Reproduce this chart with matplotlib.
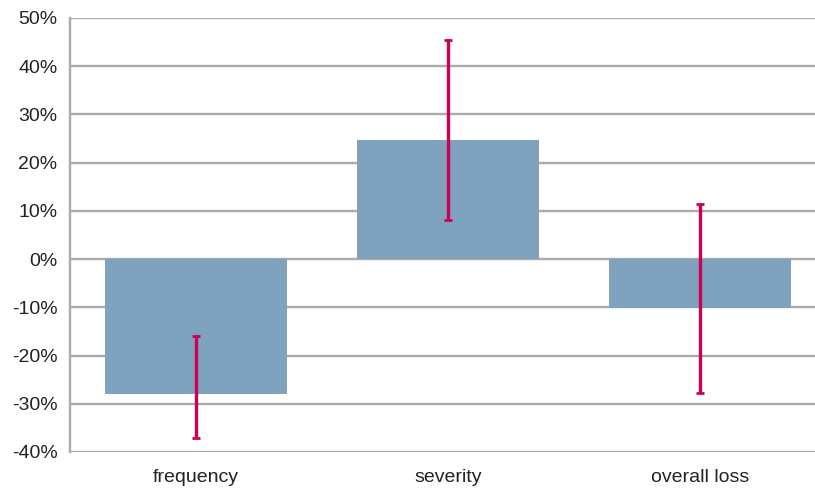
import matplotlib
matplotlib.use("Agg")
import matplotlib.pyplot as plt
from matplotlib.ticker import FuncFormatter
from matplotlib import font_manager

categories = ["frequency", "severity", "overall loss"]
values = [-28, 24.8, -10.1]
err_low = [-37, 8.2, -27.7]
err_high = [-16, 45.5, 11.5]
yticks = [-40, -30, -20, -10, 0, 10, 20, 30, 40, 50]

names = {f.name for f in font_manager.fontManager.ttflist}
fam = "Liberation Sans Narrow" if "Liberation Sans Narrow" in names else "Liberation Sans"
plt.rcParams["font.family"] = [fam, "DejaVu Sans"]

fig = plt.figure(figsize=(8.15, 4.91), dpi=100)
W, H = 815, 491
left, right, top, bottom = 70, 826, 18, 452
ax = fig.add_axes([left / W, 1 - bottom / H, (right - left) / W, (bottom - top) / H])

x = list(range(len(categories)))
ax.bar(x, values, width=0.722, color="#7FA3BF", zorder=2)
lower = [v - lo for v, lo in zip(values, err_low)]
upper = [hi - v for v, hi in zip(values, err_high)]
ax.errorbar(x, values, yerr=[lower, upper], fmt="none", ecolor="#CC0055",
            elinewidth=2.4, capsize=3, capthick=2, zorder=3)

ax.set_xlim(-0.5, 2.5)
ax.set_ylim(-40, 50)
ax.set_yticks(yticks)
ax.yaxis.set_major_formatter(FuncFormatter(lambda v, p: f"{int(v)}%"))
ax.set_xticks(x)
ax.set_xticklabels(categories)
ax.grid(axis="y", color="#ABABAB", linewidth=1.7, zorder=0)
ax.set_axisbelow(True)
for s in ["top", "right", "bottom"]:
    ax.spines[s].set_visible(False)
ax.spines["left"].set_color("#ABABAB")
ax.spines["left"].set_linewidth(1.7)
ax.tick_params(axis="both", length=0, labelsize=14, colors="#222222")
ax.tick_params(axis="y", pad=9)
ax.tick_params(axis="x", pad=12)

fig.savefig("out.png", dpi=100)
